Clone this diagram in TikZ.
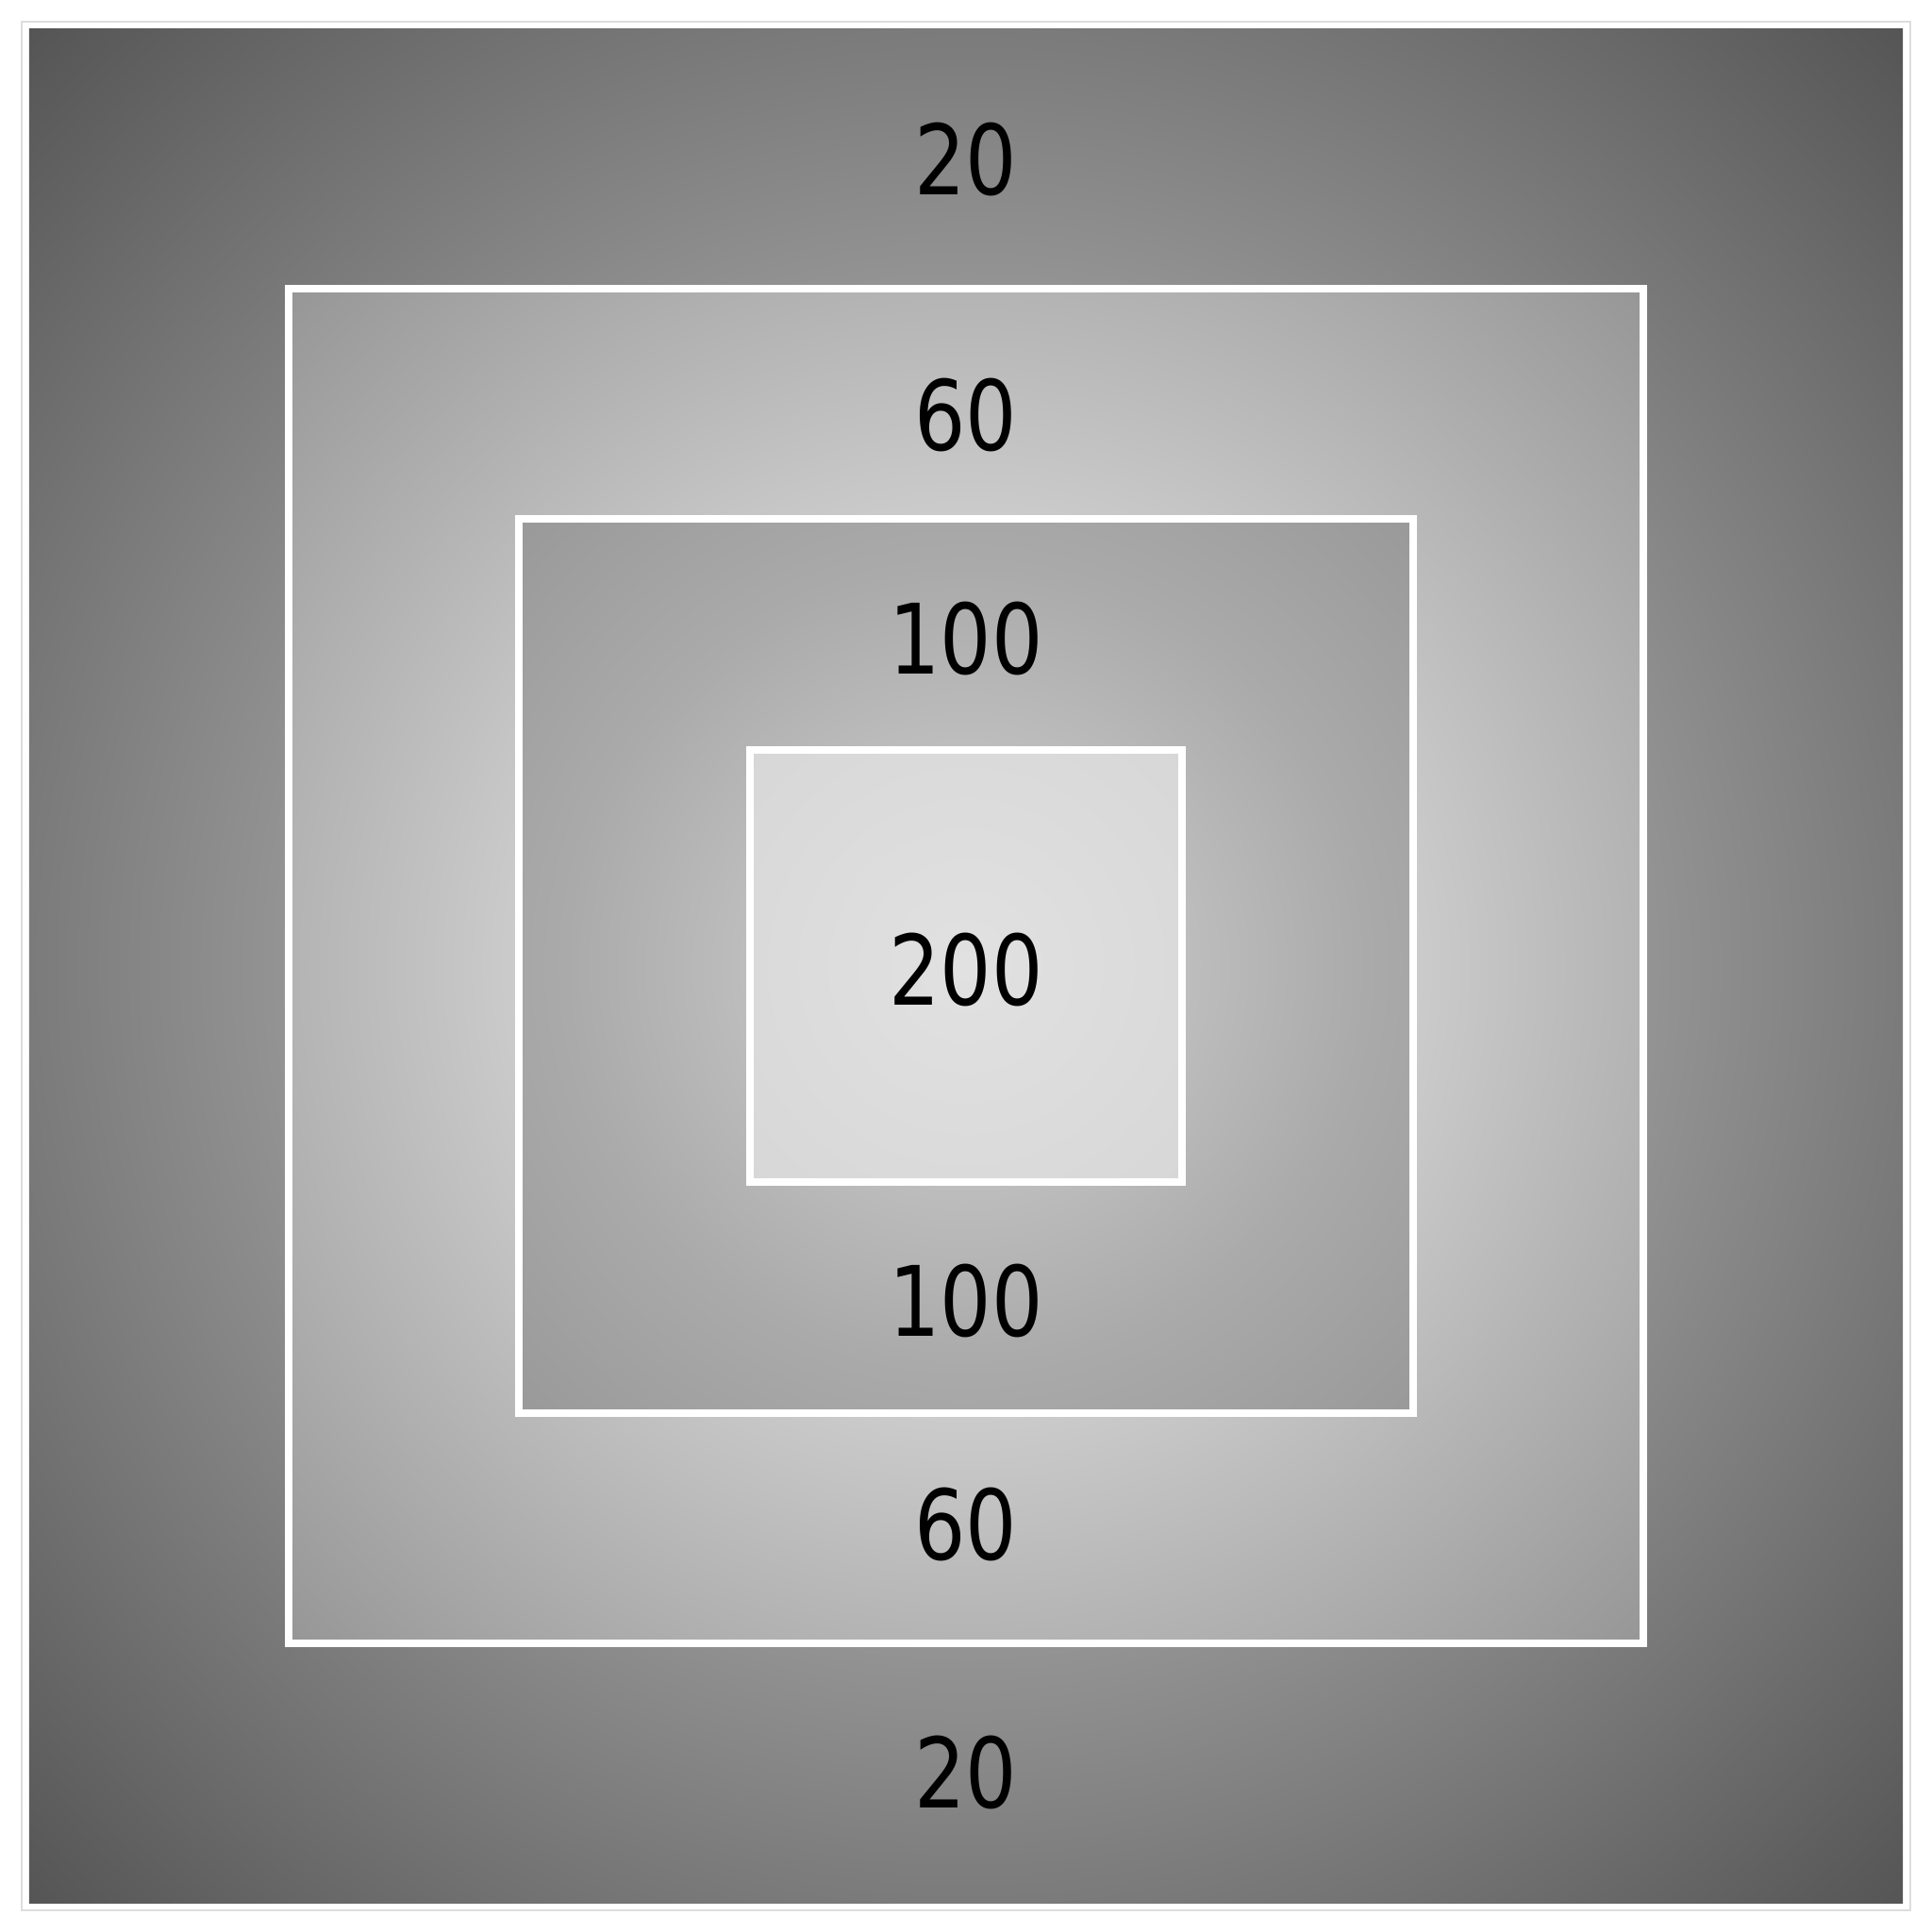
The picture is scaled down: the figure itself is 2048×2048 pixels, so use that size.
\documentclass[tikz,border=0pt]{standalone}
\usepackage{fontspec}
\setmainfont{DejaVu Sans}[FakeStretch=0.83]
\usepackage{tikz}
\usetikzlibrary{positioning}
\definecolor{Cfrm}{RGB}{221,221,221}
\definecolor{Go0}{RGB}{214,214,214}
\definecolor{Go1}{RGB}{85,85,85}
\definecolor{Gm0}{RGB}{250,250,250}
\definecolor{Gm1}{RGB}{150,150,150}
\definecolor{Gi0}{RGB}{212,212,212}
\definecolor{Gi1}{RGB}{184,184,184}
\definecolor{Gi2}{RGB}{170,170,170}
\definecolor{Gi3}{RGB}{153,153,153}
\definecolor{Gc0}{RGB}{225,225,225}
\definecolor{Gc1}{RGB}{215,215,215}
\pgfdeclareradialshading{shOuter}{\pgfpointorigin}{color(0bp)=(Go0); color(35.36bp)=(Go1); color(50bp)=(Go1)}
\pgfdeclareradialshading{shMid}{\pgfpointorigin}{color(0bp)=(Gm0); color(35.36bp)=(Gm1); color(50bp)=(Gm1)}
\pgfdeclareradialshading{shIn}{\pgfpointorigin}{color(0bp)=(Gi0); color(15bp)=(Gi1); color(22.4bp)=(Gi2); color(35.36bp)=(Gi3); color(50bp)=(Gi3)}
\pgfdeclareradialshading{shCore}{\pgfpointorigin}{color(0bp)=(Gc0); color(35.36bp)=(Gc1); color(50bp)=(Gc1)}
\tikzset{
  frm/.style={draw=Cfrm, line width=0.02cm, inner sep=0pt, outer sep=0pt},
  sq/.style={draw=white, line width=0.08cm, inner sep=0pt, outer sep=0pt, shade},
  num/.style={font=\fontsize{29.3}{35}\selectfont, text=black, inner sep=0pt}
}

\begin{document}
\begin{tikzpicture}[x=0.01cm, y=-0.01cm]
\useasboundingbox (0,0) rectangle (2048,2048);

% frame and nested squares, all centred at (1024,1024)
\node[frm, minimum size=20cm] (frame) at (1024,1024) {};
\node[sq, draw=none, shading=shOuter, minimum size=19.85cm] (outer) at (1024,1024) {};
\node[sq, shading=shMid,  minimum size=14.36cm] (mid)  at (1024,1024) {};
\node[sq, shading=shIn,   minimum size=9.48cm]  (inn)  at (1024,1024) {};
\node[sq, shading=shCore, minimum size=4.58cm]  (core) at (1024,1024) {};

% values
\node[num] (vTop20)  at (1024, 169) {20};
\node[num] (vTop60)  at (1024, 440) {60};
\node[num] (vTop100) at (1024, 677) {100};
\node[num] (vCore)   at (1024,1028) {200};
\node[num] (vBot100) at (1024,1379) {100};
\node[num] (vBot60)  at (1024,1616) {60};
\node[num] (vBot20)  at (1024,1879) {20};

\end{tikzpicture}
\end{document}
